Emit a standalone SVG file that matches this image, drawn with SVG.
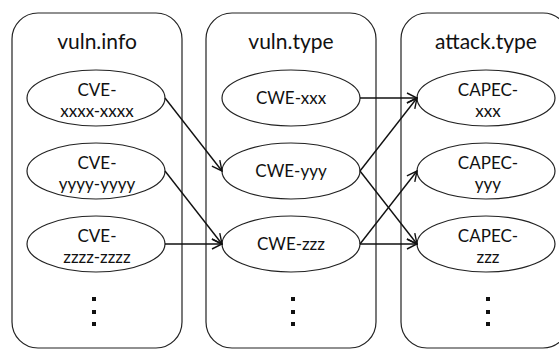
<svg xmlns="http://www.w3.org/2000/svg" width="559" height="349" viewBox="0 0 559 349">
  <style>
    .box { fill: #ffffff; stroke: #222222; stroke-width: 1.2; }
    .node { fill: #ffffff; stroke: #222222; stroke-width: 1.2; }
    .title { font-family: Lato, "Open Sans", sans-serif; font-size: 21px; fill: #111111; text-anchor: middle; }
    .lbl { font-family: Lato, "Open Sans", sans-serif; font-size: 17px; fill: #111111; text-anchor: middle; }
    .dot { fill: #111111; }
    .edge { fill: none; stroke: #111111; stroke-width: 1.4; marker-end: url(#arrow); }
  </style>
  <defs>
    <marker id="arrow" viewBox="0 0 12 12" refX="11" refY="6" markerWidth="12" markerHeight="12" markerUnits="userSpaceOnUse" orient="auto">
      <path d="M1,1 L11,6 L1,11" fill="none" stroke="#111111" stroke-width="1.4"/>
    </marker>
  </defs>

  <!-- Columns -->
  <g id="col-vuln-info">
    <rect class="box" x="12" y="13" width="170" height="335" rx="26" ry="26"/>
    <text class="title" x="97" y="49">vuln.info</text>
    <rect class="dot" x="92" y="297" width="4" height="4"/>
    <rect class="dot" x="92" y="310" width="4" height="4"/>
    <rect class="dot" x="92" y="322" width="4" height="4"/>
  </g>
  <g id="col-vuln-type">
    <rect class="box" x="206" y="13" width="170" height="335" rx="26" ry="26"/>
    <text class="title" x="291" y="49">vuln.type</text>
    <rect class="dot" x="291" y="297" width="4" height="4"/>
    <rect class="dot" x="291" y="310" width="4" height="4"/>
    <rect class="dot" x="291" y="322" width="4" height="4"/>
  </g>
  <g id="col-attack-type">
    <rect class="box" x="401" y="13" width="168" height="335" rx="26" ry="26"/>
    <text class="title" x="486" y="49">attack.type</text>
    <rect class="dot" x="486" y="297" width="4" height="4"/>
    <rect class="dot" x="486" y="310" width="4" height="4"/>
    <rect class="dot" x="486" y="322" width="4" height="4"/>
  </g>

  <!-- Nodes -->
  <g id="cve-x">
    <ellipse class="node" cx="96" cy="98" rx="69" ry="28"/>
    <text class="lbl" x="97" y="96">CVE-</text>
    <text class="lbl" x="97" y="117">xxxx-xxxx</text>
  </g>
  <g id="cve-y">
    <ellipse class="node" cx="96" cy="171" rx="69" ry="28"/>
    <text class="lbl" x="97" y="169">CVE-</text>
    <text class="lbl" x="97" y="190">yyyy-yyyy</text>
  </g>
  <g id="cve-z">
    <ellipse class="node" cx="96" cy="244" rx="69" ry="28"/>
    <text class="lbl" x="97" y="242">CVE-</text>
    <text class="lbl" x="97" y="263">zzzz-zzzz</text>
  </g>
  <g id="cwe-x">
    <ellipse class="node" cx="291" cy="98" rx="69" ry="28"/>
    <text class="lbl" x="291" y="104">CWE-xxx</text>
  </g>
  <g id="cwe-y">
    <ellipse class="node" cx="291" cy="171" rx="69" ry="28"/>
    <text class="lbl" x="291" y="177">CWE-yyy</text>
  </g>
  <g id="cwe-z">
    <ellipse class="node" cx="291" cy="244" rx="69" ry="28"/>
    <text class="lbl" x="291" y="250">CWE-zzz</text>
  </g>
  <g id="capec-x">
    <ellipse class="node" cx="486" cy="98" rx="69" ry="28"/>
    <text class="lbl" x="488" y="96">CAPEC-</text>
    <text class="lbl" x="488" y="117">xxx</text>
  </g>
  <g id="capec-y">
    <ellipse class="node" cx="486" cy="171" rx="69" ry="28"/>
    <text class="lbl" x="488" y="169">CAPEC-</text>
    <text class="lbl" x="488" y="190">yyy</text>
  </g>
  <g id="capec-z">
    <ellipse class="node" cx="486" cy="244" rx="69" ry="28"/>
    <text class="lbl" x="488" y="242">CAPEC-</text>
    <text class="lbl" x="488" y="263">zzz</text>
  </g>

  <!-- Connectors -->
  <g id="connectors">
    <line class="edge" x1="165" y1="98" x2="222" y2="171"/>
    <line class="edge" x1="165" y1="171" x2="222" y2="244"/>
    <line class="edge" x1="165" y1="244" x2="222" y2="244"/>
    <line class="edge" x1="360" y1="98" x2="417" y2="98"/>
    <line class="edge" x1="360" y1="171" x2="417" y2="98"/>
    <line class="edge" x1="360" y1="171" x2="417" y2="244"/>
    <line class="edge" x1="360" y1="244" x2="417" y2="171"/>
    <line class="edge" x1="360" y1="244" x2="417" y2="244"/>
  </g>
</svg>
